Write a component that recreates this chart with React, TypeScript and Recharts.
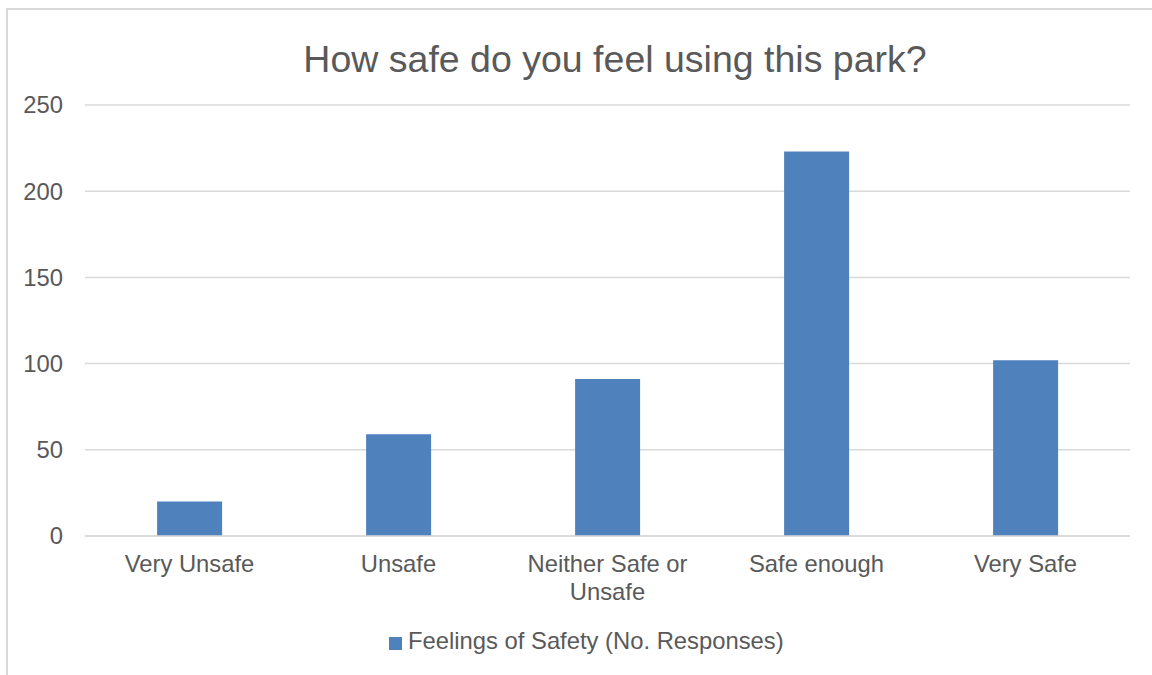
import React from 'react';
import { BarChart, Bar, XAxis, YAxis, CartesianGrid, Legend } from 'recharts';

const categories = ['Very Unsafe', 'Unsafe', 'Neither Safe or Unsafe', 'Safe enough', 'Very Safe'];
const responses = [20, 59, 91, 223, 102];
const yTicks = [0, 50, 100, 150, 200, 250];
const seriesName = 'Feelings of Safety (No. Responses)';
const title = 'How safe do you feel using this park?';

const data = categories.map((c, i) => ({ category: c, value: responses[i] }));

const FONT = '"Liberation Sans", Arial, sans-serif';
const TEXT = '#595959';
const BAR = '#4F81BD';
const GRID = '#D9D9D9';
const FS = 23.8;
const LABEL_MAX_W = 185;

let ctx: CanvasRenderingContext2D | null = null;
function measure(s: string): number {
  if (!ctx) {
    ctx = document.createElement('canvas').getContext('2d');
  }
  if (!ctx) return s.length * FS * 0.5;
  ctx.font = `${FS}px ${FONT}`;
  return ctx.measureText(s).width;
}

function wrap(label: string): string[] {
  const words = label.split(' ');
  const lines: string[] = [];
  let cur = '';
  for (const w of words) {
    const cand = cur ? cur + ' ' + w : w;
    if (cur && measure(cand) > LABEL_MAX_W) {
      lines.push(cur);
      cur = w;
    } else {
      cur = cand;
    }
  }
  if (cur) lines.push(cur);
  return lines;
}

const CategoryTick = (props: any) => {
  const { x, y, payload } = props;
  const lines = wrap(String(payload.value));
  return (
    <text x={x} y={y} textAnchor="middle" fontSize={FS} fontFamily={FONT} fill={TEXT}>
      {lines.map((l, i) => (
        <tspan key={i} x={x} dy={i === 0 ? '0.71em' : 28}>
          {l}
        </tspan>
      ))}
    </text>
  );
};

const LegendContent = () => (
  <div style={{ display: 'flex', alignItems: 'flex-start', fontFamily: FONT, fontSize: FS, lineHeight: 1, color: TEXT, whiteSpace: 'nowrap' }}>
    <div style={{ width: 13, height: 13, background: BAR, marginTop: 7.5, marginRight: 6 }} />
    <span>{seriesName}</span>
  </div>
);

export default function App() {
  return (
    <div style={{ position: 'absolute', left: 0, top: 0, width: 1152, height: 675, overflow: 'hidden', background: '#fff' }}>
      <div style={{ position: 'absolute', left: 6, top: 8, width: 1300, height: 800, border: `2px solid ${GRID}`, boxSizing: 'border-box' }} />
      <div style={{ position: 'absolute', left: 115, top: 41, width: 1000, textAlign: 'center', fontFamily: FONT, fontSize: 37.5, lineHeight: 1, color: TEXT }}>
        {title}
      </div>
      <div style={{ position: 'absolute', left: 0, top: 0 }}>
        <BarChart width={1152} height={675} data={data} margin={{ top: 105, right: 22, bottom: 0, left: 0 }} barCategoryGap="34.5%">
          <CartesianGrid vertical={false} stroke={GRID} strokeWidth={1.5} />
          <XAxis
            dataKey="category"
            height={139}
            tickSize={0}
            tickMargin={19}
            axisLine={{ stroke: GRID, strokeWidth: 1.5 }}
            tickLine={false}
            interval={0}
            tick={<CategoryTick />}
          />
          <YAxis
            width={85}
            domain={[0, 250]}
            ticks={yTicks}
            tickSize={0}
            tickMargin={22}
            axisLine={false}
            tickLine={false}
            tick={{ fontSize: FS, fill: TEXT, fontFamily: FONT }}
          />
          <Legend
            verticalAlign="middle"
            align="center"
            content={<LegendContent />}
            wrapperStyle={{ top: 629, left: 389, width: 500, height: 30 }}
          />
          <Bar dataKey="value" name={seriesName} fill={BAR} isAnimationActive={false} />
        </BarChart>
      </div>
    </div>
  );
}
